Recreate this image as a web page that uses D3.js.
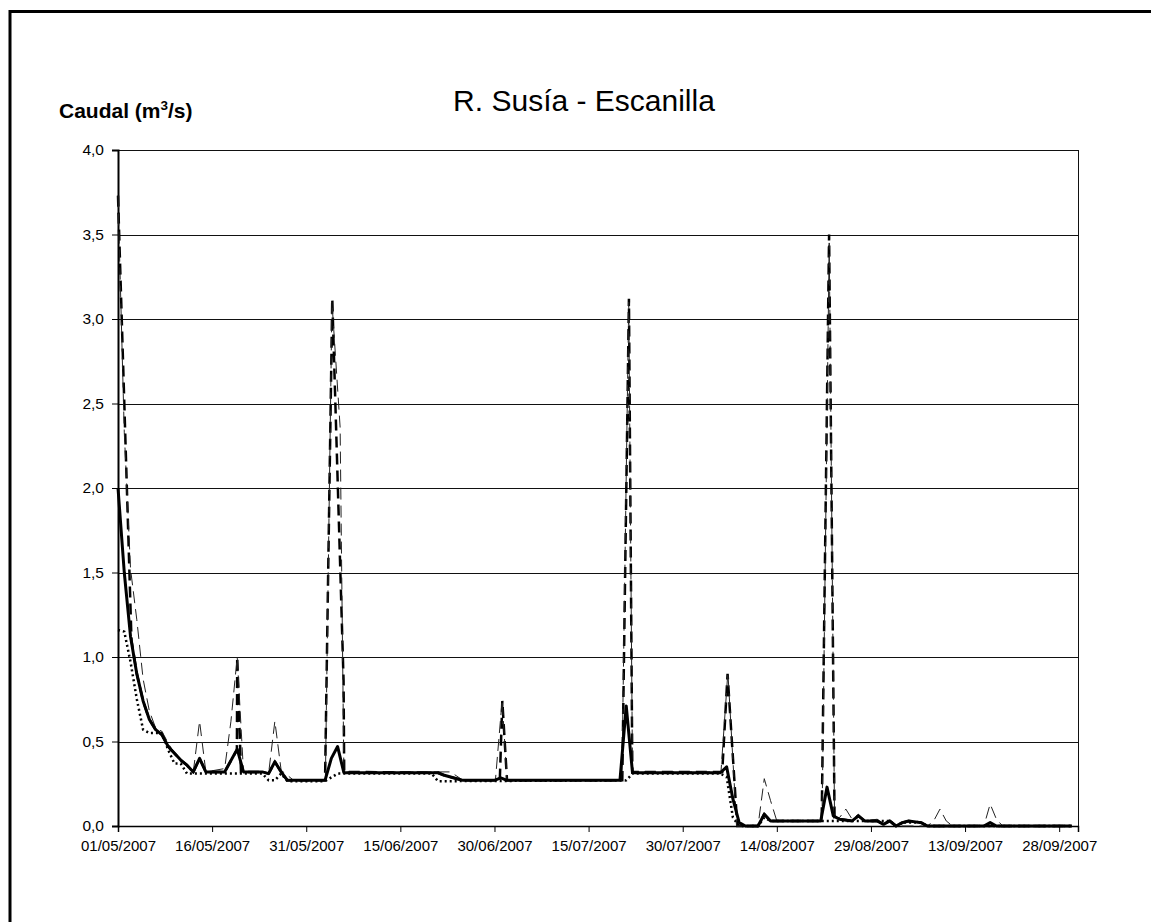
<!DOCTYPE html>
<html>
<head>
<meta charset="utf-8">
<script src="https://cdn.jsdelivr.net/npm/d3@7"></script>
<style>
  html, body { margin: 0; padding: 0; background: #fff; }
  svg { display: block; }
  text { font-family: "Liberation Sans", Arial, sans-serif; fill: #000; }
</style>
</head>
<body>
<svg id="chart" width="1151" height="922"></svg>
<script>
// ---- data (x = days after 01/05/2007, y = caudal m3/s) ----
const startDate = Date.UTC(2007, 4, 1);
const endDay = 153;
const xTickDays = [0, 15, 30, 45, 60, 75, 90, 105, 120, 135, 150];
const yTicks = [0, 0.5, 1, 1.5, 2, 2.5, 3, 3.5, 4];
const chartTitle = "R. Susía - Escanilla";

// thick solid line
const serieSolid = [[0,2.00],[1,1.50],[2,1.12],[3,0.90],[4,0.74],[5,0.63],[6,0.57],[7,0.54],[8,0.47],[9,0.43],[10,0.39],[11,0.36],[12,0.32],[13,0.40],[14,0.32],[17,0.32],[19,0.455],[20,0.32],[23,0.32],[24,0.31],[25,0.38],[26,0.32],[27,0.27],[33,0.27],[34,0.40],[35,0.47],[36,0.315],[51,0.315],[52,0.30],[54,0.28],[55,0.27],[60,0.27],[61,0.285],[62,0.27],[80,0.27],[81,0.71],[82,0.315],[96,0.315],[97,0.35],[98,0.16],[99,0.02],[100,0],[102,0],[103,0.07],[104,0.03],[112,0.03],[113,0.23],[114,0.06],[115,0.04],[117,0.03],[118,0.06],[119,0.03],[121,0.03],[122,0.01],[123,0.03],[124,0],[125,0.02],[126,0.03],[128,0.02],[129,0],[138,0],[139,0.02],[140,0],[152,0]];

// thick dashed line
const serieDashed = [[0,3.73],[2.15,1.10],[3,0.90],[4,0.74],[5,0.63],[6,0.57],[7,0.54],[8,0.47],[9,0.43],[10,0.39],[11,0.36],[12,0.32],[13,0.40],[14,0.32],[17,0.32],[18.95,0.45],[19.0,1.0],[19.6,0.32],[23,0.32],[24,0.31],[25,0.38],[26,0.32],[27,0.27],[33.0,0.27],[34.15,3.12],[35.95,0.86],[36.05,0.32],[51,0.315],[52,0.30],[54,0.28],[55,0.27],[60.85,0.27],[61.25,0.74],[62.0,0.27],[80.37,0.27],[81.43,3.12],[81.97,0.32],[96.3,0.32],[97.15,0.90],[98.7,0],[102,0],[103,0.07],[104,0.03],[112.15,0.03],[113.33,3.50],[114.2,0.05],[115,0.04],[117,0.03],[118,0.06],[119,0.03],[121,0.03],[122,0.01],[123,0.03],[124,0],[125,0.02],[126,0.03],[128,0.02],[129,0],[152,0]];

// thin dashed line
const serieThin = [[0,3.73],[1,2.33],[2,1.52],[3,1.22],[4,0.87],[5,0.68],[6,0.58],[7,0.56],[8,0.49],[9,0.43],[10,0.39],[11,0.36],[12,0.32],[13,0.62],[14,0.32],[17,0.34],[18,0.62],[19,1.0],[20,0.32],[23,0.32],[24,0.31],[25,0.62],[26,0.33],[27,0.30],[28,0.27],[33.05,0.27],[34.1,3.10],[35.4,2.36],[36.0,0.32],[53,0.32],[55,0.27],[60.15,0.27],[61.22,0.745],[62.0,0.27],[80.3,0.27],[81.4,3.10],[82,0.32],[96.1,0.32],[97.2,0.91],[98.6,0],[102,0],[103,0.28],[104,0.15],[105,0.03],[112.2,0.03],[113.35,3.45],[114.2,0.05],[115,0.05],[116,0.10],[117,0.04],[118,0.07],[119,0.03],[121,0.04],[122,0.01],[123,0.03],[124,0],[129,0],[130,0.03],[131,0.10],[132,0.03],[133,0],[138,0],[139,0.13],[140,0.04],[141,0],[152,0]];

// dotted line
const serieDotted = [[0,1.16],[1,1.15],[2,0.97],[3,0.75],[4,0.57],[5,0.55],[7,0.55],[8,0.45],[9,0.37],[10,0.37],[11,0.31],[23,0.31],[24,0.27],[25,0.27],[26,0.31],[27,0.265],[33,0.265],[35,0.31],[50,0.31],[51,0.265],[81,0.27],[82,0.31],[96,0.31],[97,0.29],[98,0.05],[99,0],[102,0],[103,0.05],[104,0.03],[123,0.03],[124,0],[125,0.02],[128,0.02],[129,0],[152,0]];

// ---- drawing ----
(function draw() {
  const svg = d3.select("#chart");
  const pL = 118, pR = 1078, pT = 150, pB = 826;
  const toDate = d => new Date(startDate + d * 864e5);

  const x = d3.scaleUtc().domain([toDate(0), toDate(endDay)]).range([pL, pR]);
  const y = d3.scaleLinear().domain([0, 4]).range([pB, pT]);

  // outer frame
  svg.append("rect").attr("x", 10).attr("y", 11.5).attr("width", 1300).attr("height", 1000)
    .attr("fill", "none").attr("stroke", "#000").attr("stroke-width", 3);

  // gridlines
  svg.append("g").selectAll("line").data(yTicks.filter(v => v > 0)).join("line")
    .attr("x1", pL).attr("x2", pR)
    .attr("y1", d => Math.round(y(d)) + 0.5).attr("y2", d => Math.round(y(d)) + 0.5)
    .attr("stroke", "#111").attr("stroke-width", 1);

  // right border of plot area
  svg.append("line").attr("x1", pR + 0.5).attr("x2", pR + 0.5).attr("y1", pT).attr("y2", pB)
    .attr("stroke", "#111").attr("stroke-width", 1);

  // axes
  const fmtY = v => d3.format(".1f")(v).replace(".", ",");
  const yAxis = d3.axisLeft(y).tickValues(yTicks).tickFormat(fmtY).tickSize(6).tickPadding(8);
  const gy = svg.append("g").attr("transform", `translate(${pL},0)`).call(yAxis);
  gy.select(".domain").attr("stroke", "#000").attr("stroke-width", 2);
  gy.selectAll(".tick line").attr("stroke", "#000");
  gy.selectAll("text").style("font-size", "15.5px").style("font-family", '"Liberation Sans", Arial, sans-serif');

  const xAxis = d3.axisBottom(x).tickValues(xTickDays.map(toDate))
    .tickFormat(d3.utcFormat("%d/%m/%Y")).tickSize(6).tickPadding(8);
  const gx = svg.append("g").attr("transform", `translate(0,${pB})`).call(xAxis);
  gx.select(".domain").attr("stroke", "#000").attr("stroke-width", 1.5);
  gx.selectAll(".tick line").attr("stroke", "#000");
  gx.selectAll("text").style("font-size", "15px").style("font-family", '"Liberation Sans", Arial, sans-serif');

  // series
  const line = d3.line().x(d => x(toDate(d[0]))).y(d => y(d[1]));
  const g = svg.append("g").attr("fill", "none");
  g.append("path").datum(serieDotted).attr("d", line)
    .attr("stroke", "#000").attr("stroke-width", 2.5).attr("stroke-dasharray", "2,3");
  g.append("path").datum(serieDashed).attr("d", line)
    .attr("stroke", "#000").attr("stroke-width", 2.5).attr("stroke-dasharray", "11,6");
  g.append("path").datum(serieThin).attr("d", line)
    .attr("stroke", "#222").attr("stroke-width", 1).attr("stroke-dasharray", "12,6");
  g.append("path").datum(serieSolid).attr("d", line)
    .attr("stroke", "#000").attr("stroke-width", 3).attr("stroke-linejoin", "round");

  // title
  svg.append("text").attr("x", 584).attr("y", 111).attr("text-anchor", "middle")
    .style("font-size", "30px").text(chartTitle);

  // y label
  const yl = svg.append("text").attr("x", 59).attr("y", 118)
    .style("font-size", "21px").style("font-weight", "bold");
  yl.append("tspan").text("Caudal (m");
  yl.append("tspan").attr("dy", -8).style("font-size", "13.5px").text("3");
  yl.append("tspan").attr("dy", 8).text("/s)");
})();
</script>
</body>
</html>
